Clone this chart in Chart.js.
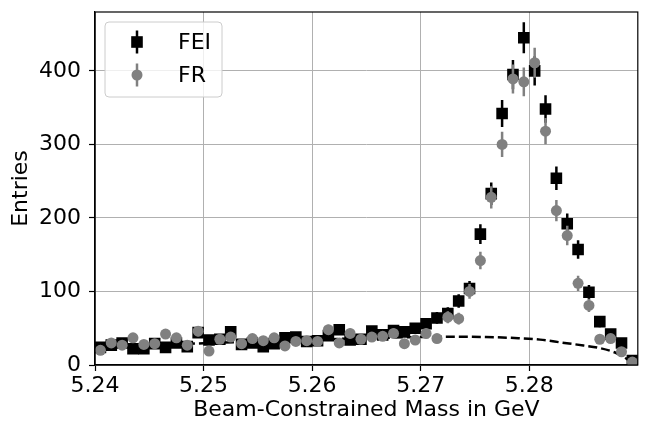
<!DOCTYPE html>
<html>
<head>
<meta charset="utf-8">
<script src="https://cdn.jsdelivr.net/npm/chart.js@4.4.0/dist/chart.umd.min.js"></script>
<style>
  html, body { margin: 0; padding: 0; background: #fff; }
</style>
</head>
<body>
<canvas id="graph1" width="646" height="426"></canvas>
<script>
// bin centres in GeV, bin width 1 MeV
var binCenters = [5.2405, 5.2415, 5.2425, 5.2435, 5.2445, 5.2455, 5.2465, 5.2475, 5.2485, 5.2495,
                  5.2505, 5.2515, 5.2525, 5.2535, 5.2545, 5.2555, 5.2565, 5.2575, 5.2585, 5.2595,
                  5.2605, 5.2615, 5.2625, 5.2635, 5.2645, 5.2655, 5.2665, 5.2675, 5.2685, 5.2695,
                  5.2705, 5.2715, 5.2725, 5.2735, 5.2745, 5.2755, 5.2765, 5.2775, 5.2785, 5.2795,
                  5.2805, 5.2815, 5.2825, 5.2835, 5.2845, 5.2855, 5.2865, 5.2875, 5.2885, 5.2895];
var feiEntries = [24, 27, 30, 22, 22, 29, 24, 30, 25, 44,
                  34, 35, 45, 28, 30, 25, 29, 37, 38, 32,
                  33, 40, 48, 34, 35, 46, 41, 47, 45, 50,
                  56, 64, 70, 87, 104, 178, 233, 342, 395, 445,
                  400, 348, 254, 192, 157, 99, 59, 42, 30, 6];
var feiErrors = [4.9, 5.2, 5.5, 4.7, 4.7, 5.4, 4.9, 5.5, 5.0, 6.6,
                 5.8, 5.9, 6.7, 5.3, 5.5, 5.0, 5.4, 6.1, 6.2, 5.7,
                 5.7, 6.3, 6.9, 5.8, 5.9, 6.8, 6.4, 6.9, 6.7, 7.1,
                 7.5, 8.0, 8.4, 9.3, 10.2, 13.3, 15.3, 18.5, 19.9, 21.1,
                 20.0, 18.7, 15.9, 13.9, 12.5, 9.9, 7.7, 6.5, 5.5, 2.4];
var frEntries = [20, 30, 27, 37, 28, 29, 42, 37, 27, 46,
                 19, 35, 38, 29, 36, 33, 37, 26, 32, 33,
                 32, 48, 30, 43, 35, 38, 39, 43, 29, 34,
                 43, 36, 65, 63, 100, 142, 228, 300, 389, 385,
                 411, 318, 210, 176, 111, 81, 35, 36, 18, 4];
var frErrors = [4.5, 5.5, 5.2, 6.1, 5.3, 5.4, 6.5, 6.1, 5.2, 6.8,
                4.4, 5.9, 6.2, 5.4, 6.0, 5.7, 6.1, 5.1, 5.7, 5.7,
                5.7, 6.9, 5.5, 6.6, 5.9, 6.2, 6.2, 6.6, 5.4, 5.8,
                6.6, 6.0, 8.1, 7.9, 10.0, 11.9, 15.1, 17.3, 19.7, 19.6,
                20.3, 17.8, 14.5, 13.3, 10.5, 9.0, 5.9, 6.0, 4.2, 2.0];
// background fit (dashed)
var fitMass = [5.240, 5.245, 5.250, 5.255, 5.260, 5.265, 5.270, 5.273, 5.276, 5.279,
               5.281, 5.283, 5.285, 5.2865, 5.2879, 5.2886, 5.2891, 5.2898];
var fitEntries = [24, 27, 29.5, 32, 34.5, 36.5, 38, 38.5, 38, 36.5,
                  34.5, 30.5, 26.5, 23, 17, 12, 7, 0];
var xTickValues = [5.24, 5.25, 5.26, 5.27, 5.28];
var yTickValues = [0, 100, 200, 300, 400];

function toPoints(xs, ys) {
    return xs.map(function (x, i) { return { x: x, y: ys[i] }; });
}

Chart.defaults.font.family = "'DejaVu Sans', sans-serif";
Chart.defaults.color = '#000';

// vertical error bars, drawn just before the markers of their dataset
var errorBars = {
    id: 'errorBars',
    beforeDatasetDraw: function (chart, args) {
        var ds = chart.data.datasets[args.index];
        if (!ds.errors) return;
        var ctx = chart.ctx, xs = chart.scales.x, ys = chart.scales.y;
        ctx.save();
        ctx.strokeStyle = ds.barColor;
        ctx.lineWidth = 2.5;
        ctx.beginPath();
        ds.data.forEach(function (p, i) {
            var px = xs.getPixelForValue(p.x);
            ctx.moveTo(px, ys.getPixelForValue(p.y - ds.errors[i]));
            ctx.lineTo(px, ys.getPixelForValue(p.y + ds.errors[i]));
        });
        ctx.stroke();
        ctx.restore();
    }
};

// box round the plot + legend in the upper left
var frameAndLegend = {
    id: 'frameAndLegend',
    afterDraw: function (chart) {
        var ctx = chart.ctx, a = chart.chartArea;
        ctx.save();
        ctx.strokeStyle = '#000';
        ctx.lineWidth = 1.2;
        ctx.strokeRect(a.left, a.top, a.right - a.left, a.bottom - a.top);

        var bx = 105, by = 22, bw = 117, bh = 75;
        ctx.beginPath();
        ctx.roundRect(bx, by, bw, bh, 4);
        ctx.fillStyle = 'rgba(255,255,255,0.8)';
        ctx.fill();
        ctx.strokeStyle = '#cccccc';
        ctx.lineWidth = 1;
        ctx.stroke();

        var entries = [
            { label: 'FEI', color: '#000', style: 'rect', y: 42 },
            { label: 'FR', color: '#808080', style: 'circle', y: 75 }
        ];
        entries.forEach(function (e) {
            ctx.strokeStyle = e.color;
            ctx.lineWidth = 2.5;
            ctx.beginPath();
            ctx.moveTo(137, e.y - 11.5);
            ctx.lineTo(137, e.y + 11.5);
            ctx.stroke();
            ctx.fillStyle = e.color;
            if (e.style === 'rect') {
                ctx.fillRect(137 - 5.8, e.y - 5.8, 11.6, 11.6);
            } else {
                ctx.beginPath();
                ctx.arc(137, e.y, 5.5, 0, Math.PI * 2);
                ctx.fill();
            }
            ctx.fillStyle = '#000';
            ctx.font = "22px 'DejaVu Sans'";
            ctx.textBaseline = 'middle';
            ctx.fillText(e.label, 178, e.y + 1);
        });
        ctx.restore();
    }
};

var context = document.getElementById("graph1").getContext('2d');
var chart = new Chart(context, {
    type: 'scatter',
    data: {
        datasets: [
            {
                label: 'fit',
                type: 'line',
                data: toPoints(fitMass, fitEntries),
                borderColor: '#000',
                borderWidth: 2.5,
                borderDash: [9, 4],
                pointRadius: 0,
                cubicInterpolationMode: 'monotone',
                fill: false,
                order: 3
            },
            {
                label: 'FEI',
                data: toPoints(binCenters, feiEntries),
                errors: feiErrors,
                barColor: '#000',
                pointStyle: 'rect',
                pointRadius: 8.2,
                borderWidth: 0,
                backgroundColor: '#000',
                order: 2
            },
            {
                label: 'FR',
                data: toPoints(binCenters, frEntries),
                errors: frErrors,
                barColor: '#808080',
                pointStyle: 'circle',
                pointRadius: 5.5,
                borderWidth: 0,
                backgroundColor: '#808080',
                order: 1
            }
        ]
    },
    options: {
        responsive: false,
        animation: false,
        layout: { padding: { top: 12, right: 7, left: 0, bottom: 0 } },
        plugins: { legend: { display: false }, tooltip: { enabled: false } },
        scales: {
            x: {
                type: 'linear',
                min: 5.24,
                max: 5.29,
                afterBuildTicks: function (s) { s.ticks = xTickValues.map(function (v) { return { value: v }; }); },
                afterFit: function (s) { s.height = 61; },
                ticks: {
                    callback: function (v) { return v.toFixed(2); },
                    font: { size: 22 },
                    padding: 2,
                    maxRotation: 0,
                    autoSkip: false
                },
                grid: { color: '#b0b0b0', lineWidth: 1, tickColor: '#000', tickLength: 6, tickWidth: 1.2 },
                border: { color: '#000', width: 1.2 },
                title: { display: true, text: 'Beam-Constrained Mass in GeV', font: { size: 22 }, padding: { top: 0, bottom: 3 } }
            },
            y: {
                min: 0,
                max: 480,
                afterBuildTicks: function (s) { s.ticks = yTickValues.map(function (v) { return { value: v }; }); },
                afterFit: function (s) { s.width = 95; s.paddingTop = 0; s.paddingBottom = 0; },
                ticks: { font: { size: 22 }, padding: 8 },
                grid: { color: '#b0b0b0', lineWidth: 1, tickColor: '#000', tickLength: 6, tickWidth: 1.2 },
                border: { color: '#000', width: 1.2 },
                title: { display: true, text: 'Entries', font: { size: 22 }, padding: { top: 8, bottom: 0 } }
            }
        }
    },
    plugins: [errorBars, frameAndLegend]
});
</script>
</body>
</html>
